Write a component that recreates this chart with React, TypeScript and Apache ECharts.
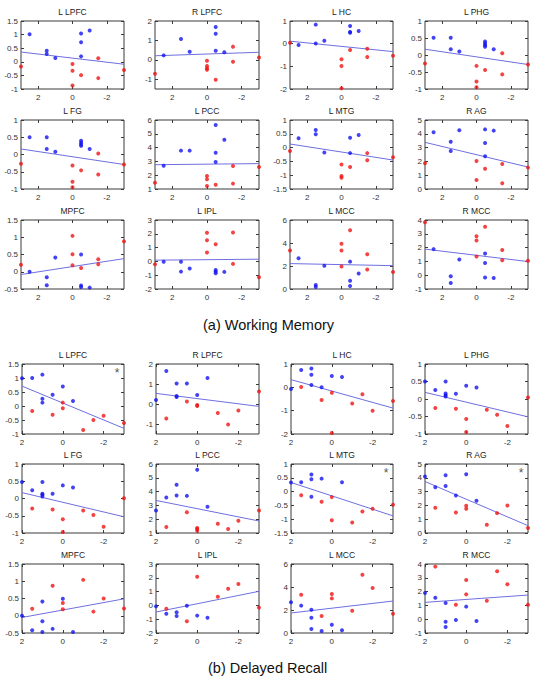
import React, { useEffect, useRef } from 'react';
import * as echarts from 'echarts';

type Pt = [number, number];

// ---------- (a) Working Memory ----------
const wmLLPFCBlue: Pt[] = [[2.5, 1.01], [1.5, 0.41], [1.5, 0.29], [1, 0.14], [-0.5, 1.04], [-0.5, 0.72], [-0.5, 0.2], [-1, 1.15]];
const wmLLPFCRed: Pt[] = [[3, -0.17], [0, -0.08], [0, -0.33], [0, -0.87], [-0.5, -0.49], [-1.5, 0.13], [-1.5, -0.6], [-3, -0.3]];
const wmLLPFCLine = [0.36, -0.09];

const wmRLPFCBlue: Pt[] = [[2.5, 0.23], [1.5, 1.07], [1, 0.42], [-0.5, 1.69], [-0.5, 1.34], [-0.5, 0.47], [-1, 0.39]];
const wmRLPFCRed: Pt[] = [[3, -0.72], [0, -0.05], [0, -0.31], [0, -0.43], [0, -0.51], [-0.5, -1.02], [-1.5, 0.68], [-1.5, -0.1], [-3, 0.12]];
const wmRLPFCLine = [0.21, 0.39];

const wmLHCBlue: Pt[] = [[2.5, -0.06], [1.5, 0.84], [1.5, 0.01], [1, 0.13], [-0.5, 0.78], [-0.5, 0.52], [-0.5, 0.48], [-1, 0.56]];
const wmLHCRed: Pt[] = [[3, 0.04], [0, -0.69], [0, -0.99], [0, -1.97], [-0.5, -0.28], [-1.5, -0.22], [-1.5, -0.59], [-3, -0.53]];
const wmLHCLine = [0.11, -0.35];

const wmLPHGBlue: Pt[] = [[2.5, 0.51], [1.5, 0.51], [1.5, 0.17], [1, 0.1], [-0.5, 0.4], [-0.5, 0.34], [-0.5, 0.29], [-0.5, 0.24], [-1, 0.17]];
const wmLPHGRed: Pt[] = [[3, -0.25], [0, -0.32], [0, -0.78], [0, -0.95], [-0.5, -0.44], [-1.5, 0.05], [-1.5, -0.57], [-3, -0.28]];
const wmLPHGLine = [0.17, -0.28];

const wmLFGBlue: Pt[] = [[2.5, 0.5], [1.5, 0.5], [1.5, 0.16], [1, 0.08], [-0.5, 0.4], [-0.5, 0.34], [-0.5, 0.29], [-0.5, 0.25], [-1, 0.16]];
const wmLFGRed: Pt[] = [[3, -0.27], [0, -0.32], [0, -0.79], [0, -0.95], [-0.5, -0.46], [-1.5, 0.03], [-1.5, -0.58], [-3, -0.29]];
const wmLFGLine = [0.16, -0.29];

const wmLPCCBlue: Pt[] = [[2.5, 2.69], [1.5, 3.78], [1, 3.78], [-0.5, 5.64], [-0.5, 3.63], [-0.5, 2.96], [-1, 4.57]];
const wmLPCCRed: Pt[] = [[3, 1.46], [0, 1.94], [0, 1.7], [0, 1.22], [-0.5, 1.31], [-1.5, 2.67], [-1.5, 1.39], [-3, 2.59]];
const wmLPCCLine = [2.76, 2.84];

const wmLMTGBlue: Pt[] = [[2.5, 0.34], [1.5, 0.64], [1.5, 0.48], [1, -0.18], [-0.5, 0.36], [-0.5, -0.2], [-1, 0.46]];
const wmLMTGRed: Pt[] = [[3, -0.12], [0, -0.61], [0, -1.03], [0, -1.09], [-0.5, -0.7], [-1.5, -0.2], [-1.5, -0.46], [-3, -0.35]];
const wmLMTGLine = [0.13, -0.45];

const wmRAGBlue: Pt[] = [[2.5, 4.11], [1.5, 3.43], [1.5, 2.75], [1, 4.25], [-0.5, 4.32], [-0.5, 3.33], [-0.5, 2.37], [-1, 4.23]];
const wmRAGRed: Pt[] = [[3, 1.86], [0, 2.03], [0, 0.65], [-0.5, 1.47], [-1.5, 1.81], [-1.5, 0.41], [-3, 1.55]];
const wmRAGLine = [3.38, 1.59];

const wmMPFCBlue: Pt[] = [[2.5, 0], [1.5, -0.16], [1.5, -0.39], [1, 0.41], [-0.5, 0.5], [-0.5, -0.4], [-0.5, -0.44], [-1, -0.46]];
const wmMPFCRed: Pt[] = [[3, 0.2], [0, 1.04], [0, 0.51], [0, 0.19], [-0.5, 0.11], [-1.5, 0.36], [-1.5, 0.22], [-3, 0.88]];
const wmMPFCLine = [-0.08, 0.38];

const wmLIPLBlue: Pt[] = [[2.5, -0.03], [1.5, -0.03], [1.5, -0.74], [1, -0.52], [-0.5, -0.62], [-0.5, -0.74], [-0.5, -0.86], [-1, -0.76]];
const wmLIPLRed: Pt[] = [[3, -0.2], [0, 2.08], [0, 1.54], [0, 0.65], [-0.5, 1.25], [-1.5, 2.1], [-1.5, -0.18], [-3, -1.15]];
const wmLIPLLine = [0.09, 0.16];

const wmLMCCBlue: Pt[] = [[2.5, 2.68], [1.5, 0.34], [1.5, 0.17], [1, 2.03], [-0.5, 2.38], [-0.5, 0.72], [-0.5, 0.26], [-1, 1.34]];
const wmLMCCRed: Pt[] = [[3, 3.35], [0, 3.93], [0, 3.35], [0, 1.95], [-0.5, 5.1], [-1.5, 3.03], [-1.5, 1.69], [-3, 1.48]];
const wmLMCCLine = [2.21, 2.03];

const wmRMCCBlue: Pt[] = [[2.5, 1.89], [1.5, -0.08], [1.5, -0.56], [1, 1.14], [-0.5, 1.57], [-0.5, 0.89], [-0.5, -0.17], [-1, -0.2]];
const wmRMCCRed: Pt[] = [[3, 3.83], [0, 2.83], [0, 2.52], [0, 1.35], [-0.5, 3.51], [-1.5, 1.82], [-1.5, 1.09], [-3, 1.04]];
const wmRMCCLine = [1.89, 0.99];

// ---------- (b) Delayed Recall ----------
const drLLPFCBlue: Pt[] = [[2, 0.99], [1.5, 1.0], [1, 1.12], [1, 0.26], [1, 0.12], [0.5, 0.4], [0, 0.7], [-0.5, 0.18]];
const drLLPFCRed: Pt[] = [[1.5, -0.18], [0.5, -0.31], [0, 0.12], [0, -0.08], [-1, -0.86], [-1.5, -0.5], [-2, -0.35], [-3, -0.61]];
const drLLPFCLine = [0.71, -0.8];

const drRLPFCBlue: Pt[] = [[2, 0.2], [1.5, 1.65], [1, 1.03], [1, 0.4], [1, 0.35], [0.5, 1.02], [0, 0.45], [-0.5, 1.3]];
const drRLPFCRed: Pt[] = [[1.5, -0.73], [0.5, 0.12], [0, -0.05], [0, -0.1], [-1, -0.45], [-1.5, -1.02], [-2, -0.33], [-3, 0.63]];
const drRLPFCLine = [0.53, -0.12];

const drLHCBlue: Pt[] = [[2, -0.07], [1.5, 0.74], [1, 0.81], [1, 0.54], [1, 0.1], [0.5, 0], [0, 0.49], [-0.5, 0.44]];
const drLHCRed: Pt[] = [[1.5, 0.01], [0.5, -0.54], [0, -0.23], [0, -1.96], [-1, -0.69], [-1.5, -0.3], [-2, -1.0], [-3, -0.59]];
const drLHCLine = [0.33, -0.89];

const drLPHGBlue: Pt[] = [[2, 0.5], [1.5, 0.26], [1, 0.5], [1, 0.16], [1, 0.11], [1, 0.07], [0.5, 0.15], [0, 0.38], [-0.5, 0.33]];
const drLPHGRed: Pt[] = [[1.5, -0.26], [0.5, -0.28], [0, -0.57], [0, -0.94], [-1, -0.31], [-1.5, -0.45], [-2, -0.77], [-3, 0.04]];
const drLPHGLine = [0.19, -0.51];

const drLFGBlue: Pt[] = [[2, 0.48], [1.5, 0.24], [1, 0.48], [1, 0.14], [1, 0.11], [1, 0.06], [0.5, 0.14], [0, 0.38], [-0.5, 0.32]];
const drLFGRed: Pt[] = [[1.5, -0.29], [0.5, -0.32], [0, -0.6], [0, -0.97], [-1, -0.35], [-1.5, -0.48], [-2, -0.82], [-3, 0.01]];
const drLFGLine = [0.17, -0.53];

const drLPCCBlue: Pt[] = [[2, 2.63], [1.5, 3.57], [1, 4.49], [1, 3.72], [0.5, 3.69], [0, 5.59], [-0.5, 2.9]];
const drLPCCRed: Pt[] = [[1.5, 1.43], [0.5, 2.51], [0, 1.36], [0, 1.29], [0, 1.17], [-1, 1.67], [-1.5, 1.29], [-2, 1.89], [-3, 2.63]];
const drLPCCLine = [3.36, 1.87];

const drLMTGBlue: Pt[] = [[2, 0.33], [1.5, 0.34], [1, 0.62], [1, 0.45], [1, -0.19], [0.5, 0.47], [-0.5, 0.34]];
const drLMTGRed: Pt[] = [[1.5, -0.13], [0.5, -0.37], [0, -0.2], [0, -1.04], [-1, -1.12], [-1.5, -0.72], [-2, -0.62], [-3, -0.48]];
const drLMTGLine = [0.33, -0.88];

const drRAGBlue: Pt[] = [[2, 4.09], [1.5, 3.32], [1, 4.18], [1, 3.41], [0.5, 2.72], [0, 4.25], [-0.5, 2.33]];
const drRAGRed: Pt[] = [[1.5, 1.83], [0.5, 1.49], [0, 1.97], [0, 1.75], [-1, 0.6], [-1.5, 1.44], [-2, 2.0], [-3, 0.36]];
const drRAGLine = [3.73, 0.53];

const drMPFCBlue: Pt[] = [[2, 0], [1.5, -0.42], [1, 0.41], [1, -0.16], [1, -0.47], [0.5, -0.38], [0, 0.49], [-0.5, -0.47]];
const drMPFCRed: Pt[] = [[1.5, 0.2], [0.5, 0.87], [0, 0.37], [0, 0.19], [-1, 1.04], [-1.5, 0.12], [-2, 0.5], [-3, 0.21]];
const drMPFCLine = [-0.05, 0.49];

const drLIPLBlue: Pt[] = [[2, -0.07], [1.5, -0.6], [1, -0.5], [1, -0.77], [0.5, -0.02], [0, -0.74], [-0.5, -0.89]];
const drLIPLRed: Pt[] = [[1.5, -0.24], [0.5, -1.15], [0, 2.08], [-1, 0.63], [-1.5, 1.21], [-2, 1.55], [-3, -0.16]];
const drLIPLLine = [-0.48, 1.02];

const drLMCCBlue: Pt[] = [[2, 2.67], [1.5, 2.38], [1, 2.03], [1, 1.33], [1, 0.35], [0.5, 0.17], [0, 0.72], [-0.5, 0.23]];
const drLMCCRed: Pt[] = [[1.5, 3.33], [0.5, 1.48], [0, 3.39], [0, 3.01], [-1, 1.94], [-1.5, 5.07], [-2, 3.91], [-3, 1.68]];
const drLMCCLine = [1.74, 2.78];

const drRMCCBlue: Pt[] = [[2, 1.9], [1.5, 1.56], [1, 1.17], [1, -0.18], [1, -0.57], [0.5, -0.06], [0, 0.91], [-0.5, -0.13]];
const drRMCCRed: Pt[] = [[1.5, 3.81], [0.5, 1.05], [0, 2.84], [0, 1.8], [-1, 1.34], [-1.5, 3.47], [-2, 2.53], [-3, 1.05]];
const drRMCCLine = [1.22, 1.75];

// ---------- axes / labels ----------
const regionTitles = ['L LPFC', 'R LPFC', 'L HC', 'L PHG', 'L FG', 'L PCC', 'L MTG', 'R AG', 'MPFC', 'L IPL', 'L MCC', 'R MCC'];
const yRanges: [number, number][] = [[-1, 1.5], [-1.5, 2], [-2, 1], [-1, 1], [-1, 1], [1, 6], [-1.5, 1], [0, 5], [-0.5, 1.5], [-2, 3], [0, 6], [-1, 4]];
const yTickValues: number[][] = [
  [-1, -0.5, 0, 0.5, 1, 1.5], [-1, 0, 1, 2], [-2, -1, 0, 1], [-1, -0.5, 0, 0.5, 1],
  [-1, -0.5, 0, 0.5, 1], [1, 2, 3, 4, 5, 6], [-1.5, -1, -0.5, 0, 0.5, 1], [0, 1, 2, 3, 4, 5],
  [-0.5, 0, 0.5, 1, 1.5], [-2, -1, 0, 1, 2, 3], [0, 2, 4, 6], [-1, 0, 1, 2, 3, 4],
];
const xTickValues = [-2, 0, 2];
const wmXRange: [number, number] = [-3, 3];
const drXRange: [number, number] = [-3, 2];
const drStars = ['L LPFC', 'L MTG', 'R AG'];
const captions = ['(a) Working Memory', '(b) Delayed Recall'];

const wmSets = [
  [wmLLPFCBlue, wmLLPFCRed, wmLLPFCLine], [wmRLPFCBlue, wmRLPFCRed, wmRLPFCLine], [wmLHCBlue, wmLHCRed, wmLHCLine], [wmLPHGBlue, wmLPHGRed, wmLPHGLine],
  [wmLFGBlue, wmLFGRed, wmLFGLine], [wmLPCCBlue, wmLPCCRed, wmLPCCLine], [wmLMTGBlue, wmLMTGRed, wmLMTGLine], [wmRAGBlue, wmRAGRed, wmRAGLine],
  [wmMPFCBlue, wmMPFCRed, wmMPFCLine], [wmLIPLBlue, wmLIPLRed, wmLIPLLine], [wmLMCCBlue, wmLMCCRed, wmLMCCLine], [wmRMCCBlue, wmRMCCRed, wmRMCCLine],
] as [Pt[], Pt[], number[]][];
const drSets = [
  [drLLPFCBlue, drLLPFCRed, drLLPFCLine], [drRLPFCBlue, drRLPFCRed, drRLPFCLine], [drLHCBlue, drLHCRed, drLHCLine], [drLPHGBlue, drLPHGRed, drLPHGLine],
  [drLFGBlue, drLFGRed, drLFGLine], [drLPCCBlue, drLPCCRed, drLPCCLine], [drLMTGBlue, drLMTGRed, drLMTGLine], [drRAGBlue, drRAGRed, drRAGLine],
  [drMPFCBlue, drMPFCRed, drMPFCLine], [drLIPLBlue, drLIPLRed, drLIPLLine], [drLMCCBlue, drLMCCRed, drLMCCLine], [drRMCCBlue, drRMCCRed, drRMCCLine],
] as [Pt[], Pt[], number[]][];

// layout (pixels)
const wmCols = [[21, 124], [155, 259], [290, 393], [425, 528]];
const wmRows = [[21, 89], [120, 189], [220, 289]];
const drCols = [[22, 124], [156, 259], [291, 393], [425, 528]];
const drRows = [[364, 434], [464, 533], [564, 633]];

const FONT = '"Liberation Sans", Arial, sans-serif';
const BLUE = '#1414f0';
const RED = '#f01414';
const FIT = '#6f6fe0';
const FRAME = '#3a3a3a';

function buildOption() {
  const grid: any[] = [];
  const xAxis: any[] = [];
  const yAxis: any[] = [];
  const series: any[] = [];
  const graphic: any[] = [];

  const addPanel = (idx: number, sets: [Pt[], Pt[], number[]], xr: [number, number], cols: number[][], rows: number[][], star: boolean) => {
    const k = grid.length;
    const c = cols[idx % 4];
    const r = rows[Math.floor(idx / 4)];
    grid.push({ left: c[0], top: r[0], width: c[1] - c[0], height: r[1] - r[0], show: true, borderColor: FRAME, borderWidth: 1, backgroundColor: '#fff', containLabel: false });
    const tickStyle = { lineStyle: { color: FRAME, width: 1 } };
    const [ymin, ymax] = yRanges[idx];
    const yt = yTickValues[idx];
    const noLine = { show: false, onZero: false };
    xAxis.push({
      type: 'value', gridIndex: k, min: xr[0], max: xr[1], inverse: true, position: 'bottom',
      axisLine: noLine, splitLine: { show: false },
      axisTick: { show: true, inside: true, length: 3, customValues: xTickValues, ...tickStyle },
      axisLabel: { show: true, customValues: xTickValues, fontSize: 8, fontFamily: FONT, color: '#333', margin: 4 },
    });
    xAxis.push({
      type: 'value', gridIndex: k, min: xr[0], max: xr[1], inverse: true, position: 'top',
      axisLine: noLine, splitLine: { show: false },
      axisTick: { show: true, inside: true, length: 3, customValues: xTickValues, ...tickStyle },
      axisLabel: { show: false },
    });
    yAxis.push({
      type: 'value', gridIndex: k, min: ymin, max: ymax, position: 'left',
      axisLine: noLine, splitLine: { show: false },
      axisTick: { show: true, inside: true, length: 3, customValues: yt, ...tickStyle },
      axisLabel: { show: true, customValues: yt, fontSize: 8, fontFamily: FONT, color: '#333', margin: 3 },
    });
    yAxis.push({
      type: 'value', gridIndex: k, min: ymin, max: ymax, position: 'right',
      axisLine: noLine, splitLine: { show: false },
      axisTick: { show: true, inside: true, length: 3, customValues: yt, ...tickStyle },
      axisLabel: { show: false },
    });
    const [blue, red, line] = sets;
    series.push({
      type: 'line', xAxisIndex: 2 * k, yAxisIndex: 2 * k, data: [[xr[1], line[0]], [xr[0], line[1]]],
      symbol: 'none', lineStyle: { color: FIT, width: 1 }, silent: true, z: 2,
    });
    series.push({ type: 'scatter', xAxisIndex: 2 * k, yAxisIndex: 2 * k, data: blue, symbolSize: 4, itemStyle: { color: BLUE }, z: 3 });
    series.push({ type: 'scatter', xAxisIndex: 2 * k, yAxisIndex: 2 * k, data: red, symbolSize: 4, itemStyle: { color: RED }, z: 3 });
    graphic.push({
      type: 'text', x: (c[0] + c[1]) / 2, y: r[0] - 9.5,
      style: { text: regionTitles[idx], fontSize: 8.5, fontFamily: FONT, fill: '#222', textAlign: 'center', textVerticalAlign: 'middle' },
    });
    if (star) {
      graphic.push({
        type: 'text', x: c[1] - 7, y: r[0] + 9,
        style: { text: '*', fontSize: 12, fontFamily: FONT, fill: '#555', textAlign: 'center', textVerticalAlign: 'middle' },
      });
    }
  };

  wmSets.forEach((s, i) => addPanel(i, s, wmXRange, wmCols, wmRows, false));
  drSets.forEach((s, i) => addPanel(i, s, drXRange, drCols, drRows, drStars.includes(regionTitles[i])));

  graphic.push({
    type: 'text', x: 203, y: 325,
    style: { text: captions[0], fontSize: 14.5, fontFamily: FONT, fill: '#111', textAlign: 'left', textVerticalAlign: 'middle' },
  });
  graphic.push({
    type: 'text', x: 208, y: 668,
    style: { text: captions[1], fontSize: 14.5, fontFamily: FONT, fill: '#111', textAlign: 'left', textVerticalAlign: 'middle' },
  });

  return { animation: false, backgroundColor: '#fff', grid, xAxis, yAxis, series, graphic };
}

export default function App() {
  const ref = useRef<HTMLDivElement>(null);
  useEffect(() => {
    document.body.style.margin = '0';
    if (!ref.current) return;
    const chart = echarts.init(ref.current, undefined, { renderer: 'svg' });
    chart.setOption(buildOption());
    return () => chart.dispose();
  }, []);
  return <div ref={ref} style={{ width: 536, height: 683 }} />;
}
